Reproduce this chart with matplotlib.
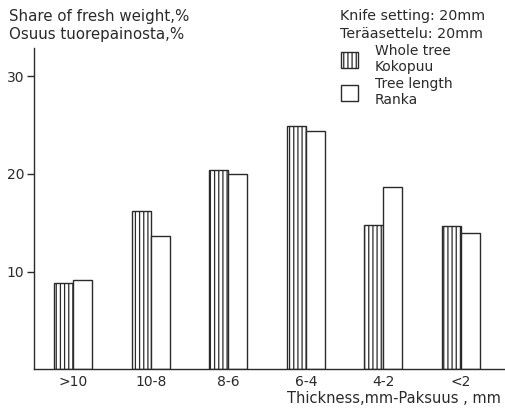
import matplotlib
matplotlib.use("Agg")
import matplotlib.pyplot as plt
import matplotlib.patches as mpatches
import numpy as np

# Thickness classes and share of fresh weight (%)
classes = [">10", "10-8", "8-6", "6-4", "4-2", "<2"]
whole_tree = [8.8, 16.2, 20.4, 24.9, 14.8, 14.7]
tree_length = [9.1, 13.6, 20.0, 24.4, 18.7, 13.9]
yticks = [10, 20, 30]

ink = "#2a2a2a"
plt.rcParams["font.family"] = ["DejaVu Sans"]
plt.rcParams["hatch.linewidth"] = 0.9
plt.rcParams["hatch.color"] = ink

fig = plt.figure(figsize=(5.06, 4.11), dpi=100)
ax = fig.add_axes([0.067, 0.102, 0.933, 0.781])

x = np.arange(len(classes))
w = 0.245
ax.bar(x - w / 2, whole_tree, w, facecolor="white", edgecolor=ink,
       linewidth=1.0, hatch="||||")
ax.bar(x + w / 2, tree_length, w, facecolor="white", edgecolor=ink,
       linewidth=1.0)

ax.set_xlim(-0.507, 5.58)
ax.set_ylim(0, 32.9)
ax.set_yticks(yticks)
ax.set_xticks(x)
ax.set_xticklabels(classes)
ax.tick_params(axis="x", length=0, pad=4, labelsize=10, colors=ink)
ax.tick_params(axis="y", direction="out", length=5, width=1, pad=2,
               labelsize=10, colors=ink)
for s in ["top", "right"]:
    ax.spines[s].set_visible(False)
for s in ["left", "bottom"]:
    ax.spines[s].set_color(ink)
    ax.spines[s].set_linewidth(1.0)

fig.text(0.99, 0.012, "Thickness,mm-Paksuus , mm", ha="right", va="bottom",
         fontsize=10.5, color=ink)

fig.text(0.018, 0.978, "Share of fresh weight,%", ha="left", va="top",
         fontsize=10.8, color=ink)
fig.text(0.018, 0.935, "Osuus tuorepainosta,%", ha="left", va="top",
         fontsize=10.8, color=ink)
fig.text(0.672, 0.978, "Knife setting: 20mm", ha="left", va="top",
         fontsize=10.3, color=ink)
fig.text(0.672, 0.935, "Teräasettelu: 20mm", ha="left", va="top",
         fontsize=10.3, color=ink)

handles = [
    mpatches.Patch(facecolor="white", edgecolor=ink, hatch="||||", linewidth=1.0),
    mpatches.Patch(facecolor="white", edgecolor=ink, linewidth=1.0),
]
fig.legend(handles, ["Whole tree\nKokopuu", "Tree length\nRanka"],
           loc="upper left", bbox_to_anchor=(0.65, 0.923), frameon=False,
           fontsize=10, handlelength=1.2, handleheight=1.35, handletextpad=1.2,
           labelspacing=0.2, labelcolor=ink)

fig.savefig("out.png", dpi=100)
